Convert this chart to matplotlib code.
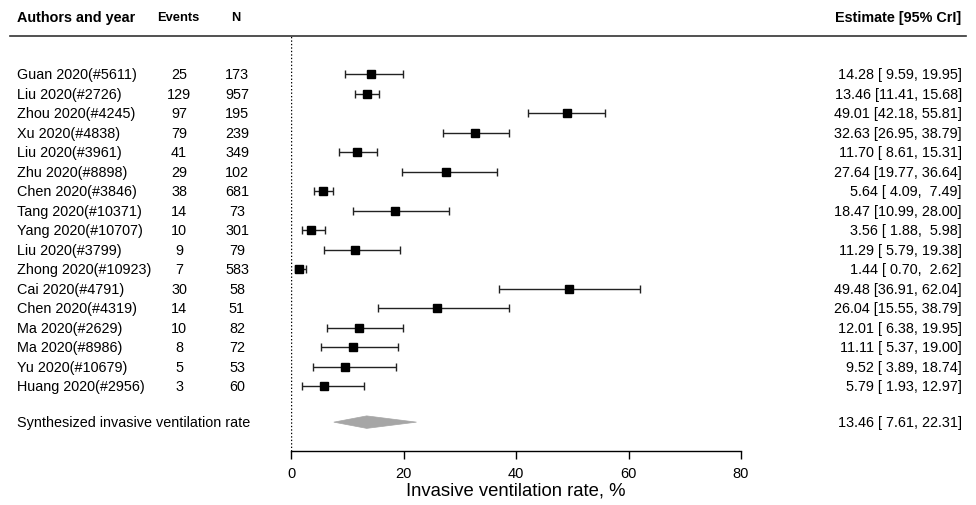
import matplotlib
matplotlib.use("Agg")
import matplotlib.pyplot as plt
from matplotlib.patches import Polygon
from matplotlib.lines import Line2D

plt.rcParams['font.family'] = ['Liberation Sans', 'DejaVu Sans']

studies = ["Guan 2020(#5611)", "Liu 2020(#2726)", "Zhou 2020(#4245)", "Xu 2020(#4838)",
           "Liu 2020(#3961)", "Zhu 2020(#8898)", "Chen 2020(#3846)", "Tang 2020(#10371)",
           "Yang 2020(#10707)", "Liu 2020(#3799)", "Zhong 2020(#10923)", "Cai 2020(#4791)",
           "Chen 2020(#4319)", "Ma 2020(#2629)", "Ma 2020(#8986)", "Yu 2020(#10679)",
           "Huang 2020(#2956)"]
events = [25, 129, 97, 79, 41, 29, 38, 14, 10, 9, 7, 30, 14, 10, 8, 5, 3]
totals = [173, 957, 195, 239, 349, 102, 681, 73, 301, 79, 583, 58, 51, 82, 72, 53, 60]
est = [14.28, 13.46, 49.01, 32.63, 11.70, 27.64, 5.64, 18.47, 3.56, 11.29, 1.44, 49.48,
       26.04, 12.01, 11.11, 9.52, 5.79]
lo = [9.59, 11.41, 42.18, 26.95, 8.61, 19.77, 4.09, 10.99, 1.88, 5.79, 0.70, 36.91,
      15.55, 6.38, 5.37, 3.89, 1.93]
hi = [19.95, 15.68, 55.81, 38.79, 15.31, 36.64, 7.49, 28.00, 5.98, 19.38, 2.62, 62.04,
      38.79, 19.95, 19.00, 18.74, 12.97]
pooled_label = "Synthesized invasive ventilation rate"
pooled = (13.46, 7.61, 22.31)
xticks = [0, 20, 40, 60, 80]

W, H = 976, 506
fig = plt.figure(figsize=(W / 100, H / 100), dpi=100)
ax = fig.add_axes([291 / W, (H - 452) / H, 450 / W, (452 - 37) / H])
ax.set_xlim(0, 80)
y_top, y_bot = -1.95, 19.33
ax.set_ylim(y_bot, y_top)

rows = list(range(len(studies)))
pooled_y = 17.85

ax.errorbar(est, rows, xerr=[[e - l for e, l in zip(est, lo)], [h - e for e, h in zip(est, hi)]],
            fmt='s', color='black', ms=5.2, ecolor='#222222', elinewidth=1.0, capsize=2.6,
            capthick=1.0, clip_on=False)

m, l, h = pooled
ax.add_patch(Polygon([(l, pooled_y), (m, pooled_y - 0.32), (h, pooled_y), (m, pooled_y + 0.32)],
                     closed=True, facecolor='#a6a6a6', edgecolor='#a6a6a6', lw=0.5))

ax.axvline(0, color='black', ls=(0, (1, 1.5)), lw=1.0)

for s in ['top', 'right', 'left']:
    ax.spines[s].set_visible(False)
ax.spines['bottom'].set_linewidth(1.0)
ax.set_yticks([])
ax.set_xticks(xticks)
ax.tick_params(axis='x', direction='out', length=6, width=1.0, labelsize=10.5, pad=5)
ax.set_xlabel("Invasive ventilation rate, %", fontsize=13.3, labelpad=1)

trans = matplotlib.transforms.blended_transform_factory(fig.transFigure, ax.transData)
fs = 10.4
for i, name in enumerate(studies):
    ax.text(17 / W, i, name, transform=trans, ha='left', va='center', fontsize=fs)
    ax.text(179 / W, i, str(events[i]), transform=trans, ha='center', va='center', fontsize=fs)
    ax.text(237 / W, i, str(totals[i]), transform=trans, ha='center', va='center', fontsize=fs)
    ax.text(962 / W, i, f"{est[i]:.2f} [{lo[i]:5.2f}, {hi[i]:5.2f}]", transform=trans,
            ha='right', va='center', fontsize=fs)

ax.text(17 / W, pooled_y, pooled_label, transform=trans, ha='left', va='center', fontsize=fs)
ax.text(962 / W, pooled_y, f"{m:.2f} [{l:5.2f}, {h:5.2f}]", transform=trans,
        ha='right', va='center', fontsize=fs)

hy = 1 - 18 / H
fig.text(17 / W, hy, "Authors and year", ha='left', va='center', fontsize=10.4, fontweight='bold')
fig.text(178 / W, hy, "Events", ha='center', va='center', fontsize=9.3, fontweight='bold')
fig.text(236 / W, hy, "N", ha='center', va='center', fontsize=9.3, fontweight='bold')
fig.text(961 / W, hy, "Estimate [95% CrI]", ha='right', va='center', fontsize=10.4, fontweight='bold')

fig.add_artist(Line2D([10 / W, 966 / W], [1 - 37 / H, 1 - 37 / H], transform=fig.transFigure,
                      color='#333333', lw=1.2))

fig.savefig("out.png", dpi=100)
